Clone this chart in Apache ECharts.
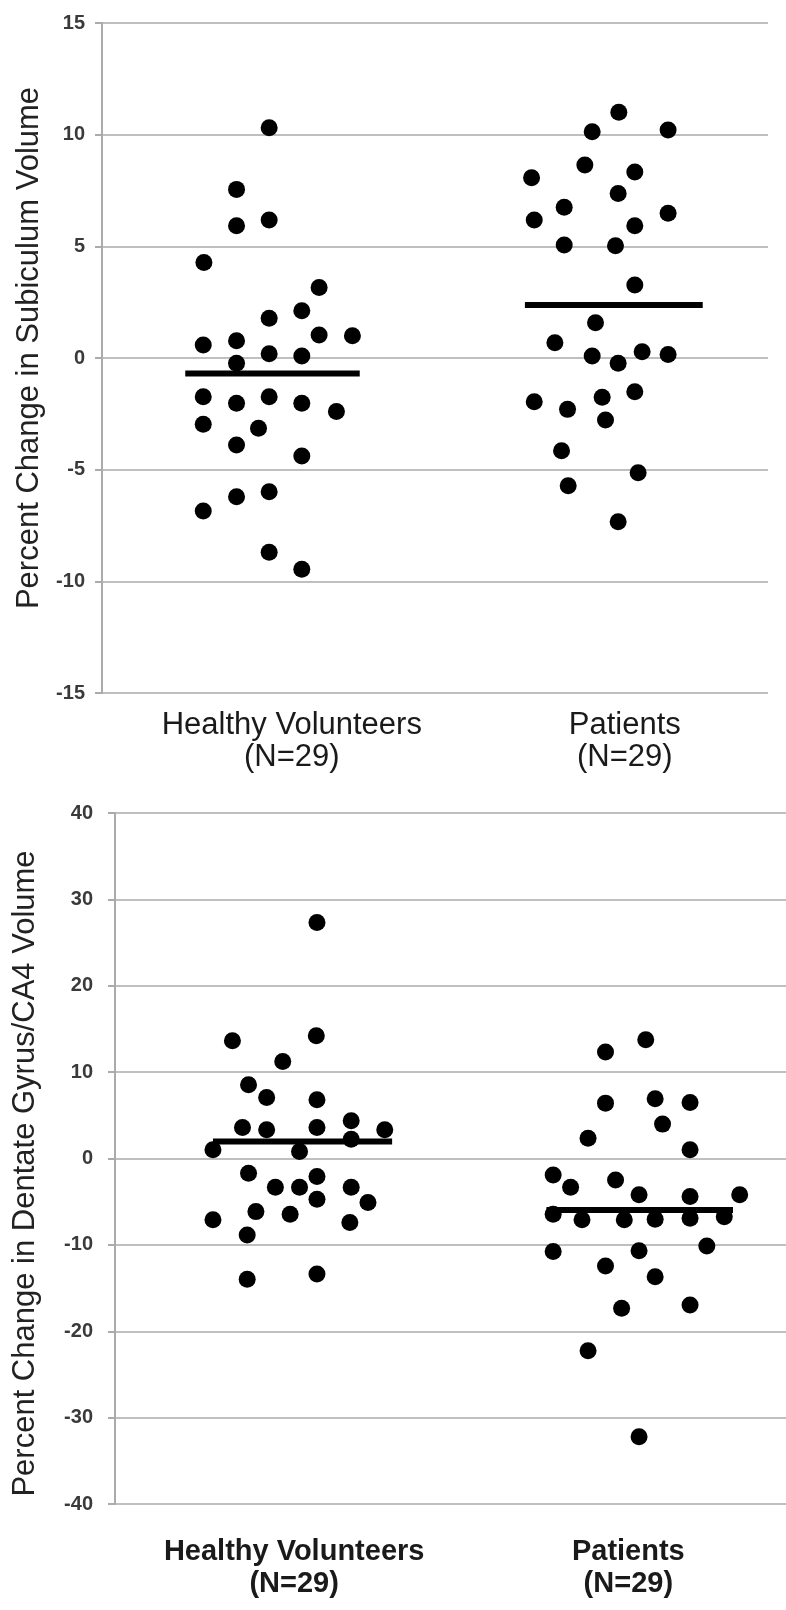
<!DOCTYPE html>
<html><head><meta charset="utf-8">
<script src="https://cdn.jsdelivr.net/npm/echarts@6/dist/echarts.min.js"></script>
<style>html,body{margin:0;padding:0;background:#fff}#c{width:786px;height:1610px}</style>
</head><body><div id="c"></div>
<script>
// ---- Category labels and their place on the 0-100 horizontal scale ----
const groupNames = ['Healthy Volunteers\n(N=29)', 'Patients\n(N=29)'];
const subLabelPos = [28.5, 78.5];
const dgLabelPos = [26.7, 76.5];

// ---- Chart 1: Percent Change in Subiculum Volume ----
const subTicks = [-15, -10, -5, 0, 5, 10, 15];
const subHV_x = [25.1,20.2,20.2,25.1,15.3,32.6,30.0,25.1,15.2,20.2,25.1,30.0,32.6,37.6,20.2,15.2,20.2,25.1,30.0,35.2,15.2,23.5,20.2,30.0,25.1,20.2,15.2,25.1,30.0];
const subHV_y = [10.31,7.55,5.92,6.18,4.28,3.16,2.12,1.78,0.58,0.77,0.19,0.09,1.03,1.0,-0.24,-1.73,-2.03,-1.73,-2.03,-2.4,-2.97,-3.15,-3.9,-4.39,-5.99,-6.21,-6.85,-8.7,-9.46];
const subPT_x = [77.6,73.6,85.0,72.5,64.5,80.0,77.5,69.4,64.9,85.0,80.0,69.4,77.1,80.0,74.1,68.0,73.6,77.5,81.1,85.0,64.9,69.9,75.1,80.0,75.6,69.0,80.5,70.0,77.5];
const subPT_y = [11.0,10.13,10.21,8.64,8.07,8.33,7.37,6.75,6.18,6.48,5.92,5.06,5.03,3.27,1.58,0.68,0.09,-0.24,0.28,0.16,-1.96,-2.3,-1.76,-1.51,-2.78,-4.15,-5.14,-5.72,-7.33];
const subMean = [-0.69, 2.37];
const subMeanSpan = [[12.5, 38.7], [63.5, 90.2]];

// ---- Chart 2: Percent Change in Dentate Gyrus/CA4 Volume ----
const dgTicks = [-40, -30, -20, -10, 0, 10, 20, 30, 40];
const dgHV_x = [30.1,30.0,17.5,25.0,19.9,22.6,30.1,19.0,22.6,30.1,35.2,40.2,35.2,14.6,27.5,19.9,30.1,23.9,27.5,35.2,30.1,37.7,14.6,21.0,26.1,35.0,19.7,19.7,30.1];
const dgHV_y = [27.33,14.2,13.63,11.23,8.53,7.06,6.8,3.58,3.32,3.58,4.36,3.32,2.24,1.0,0.8,-1.7,-2.09,-3.32,-3.32,-3.32,-4.71,-5.1,-7.1,-6.15,-6.45,-7.42,-8.85,-13.98,-13.36];
const dgPT_x = [79.1,73.1,73.1,80.5,85.7,81.6,70.5,85.7,65.3,67.9,74.6,78.1,85.7,93.1,65.3,69.6,75.9,80.5,85.7,90.8,65.3,78.1,88.2,73.1,80.5,75.5,85.7,70.5,78.1];
const dgPT_y = [13.74,12.32,6.41,6.91,6.48,3.98,2.35,1.0,-1.9,-3.32,-2.48,-4.21,-4.41,-4.21,-6.45,-7.1,-7.1,-7.03,-6.92,-6.73,-10.78,-10.67,-10.12,-12.44,-13.68,-17.34,-16.96,-22.25,-32.21];
const dgMean = [1.96, -5.95];
const dgMeanSpan = [[14.6, 41.3], [64.3, 92.1]];

const zip = (xs, ys) => xs.map((x, i) => [x, ys[i]]);
const meanLine = (span, m) => [[span[0], m], [span[1], m]];

const gridColor = '#bfbfbf';
const font = '"Liberation Sans", Arial, sans-serif';

function yAxis(gridIndex, ticks, title, gap, pad, labelMargin) {
  return {
    type: 'value', gridIndex,
    min: ticks[0], max: ticks[ticks.length - 1], interval: ticks[1] - ticks[0],
    name: title, nameLocation: 'middle', nameGap: gap, nameRotate: 90,
    nameTextStyle: { fontFamily: font, fontSize: 31, color: '#222', padding: pad },
    axisLine: { show: true, lineStyle: { color: '#ababab', width: 2 } },
    axisTick: { show: true, length: 7, inside: false, lineStyle: { color: '#ababab', width: 2 } },
    axisLabel: { fontFamily: font, fontSize: 20, fontWeight: 'bold', color: '#3a3a3a', margin: labelMargin },
    splitLine: { show: true, lineStyle: { color: gridColor, width: 2 } }
  };
}
function xAxis(gridIndex, pos, weight, size, margin) {
  return {
    type: 'value', gridIndex, min: 0, max: 100,
    axisLine: { show: false }, axisTick: { show: false }, splitLine: { show: false },
    axisLabel: {
      customValues: pos, margin,
      formatter: v => groupNames[pos.indexOf(v)] || '',
      fontFamily: font, fontSize: size, fontWeight: weight, color: '#1a1a1a', lineHeight: 32
    }
  };
}
const dot = (xi, yi, data) => ({
  type: 'scatter', xAxisIndex: xi, yAxisIndex: yi, data,
  symbol: 'circle', symbolSize: 17, itemStyle: { color: '#000', opacity: 1 }, silent: true
});
const bar = (xi, yi, data) => ({
  type: 'line', xAxisIndex: xi, yAxisIndex: yi, data, symbol: 'none',
  lineStyle: { color: '#000', width: 6 }, silent: true, z: 3
});

const chart = echarts.init(document.getElementById('c'), null, { renderer: 'canvas' });
chart.setOption({
  animation: false,
  backgroundColor: '#fff',
  grid: [
    { left: 102, top: 23, width: 666, height: 670, outerBoundsMode: 'none' },
    { left: 115, top: 813, width: 671, height: 691, outerBoundsMode: 'none' }
  ],
  xAxis: [ xAxis(0, subLabelPos, 'normal', 31, 16), xAxis(1, dgLabelPos, 'bold', 29, 32) ],
  yAxis: [
    yAxis(0, subTicks, 'Percent Change in Subiculum Volume', 52, [0, 0, 0, 20], 17),
    yAxis(1, dgTicks, 'Percent Change in Dentate Gyrus/CA4 Volume', 74, [0, 30, 0, 0], 22)
  ],
  series: [
    dot(0, 0, zip(subHV_x, subHV_y)),
    dot(0, 0, zip(subPT_x, subPT_y)),
    bar(0, 0, meanLine(subMeanSpan[0], subMean[0])),
    bar(0, 0, meanLine(subMeanSpan[1], subMean[1])),
    dot(1, 1, zip(dgHV_x, dgHV_y)),
    dot(1, 1, zip(dgPT_x, dgPT_y)),
    bar(1, 1, meanLine(dgMeanSpan[0], dgMean[0])),
    bar(1, 1, meanLine(dgMeanSpan[1], dgMean[1]))
  ]
});
</script></body></html>
